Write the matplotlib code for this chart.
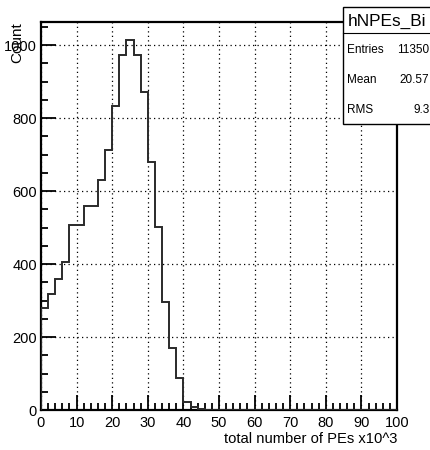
import numpy as np
import matplotlib
matplotlib.use("Agg")
import matplotlib.pyplot as plt
from matplotlib.patches import Rectangle
from matplotlib.lines import Line2D
from matplotlib.ticker import MultipleLocator

# Histogram of the total number of photo-electrons (in thousands), 2k bins
bin_edges = np.arange(0, 102, 2)
counts = [280, 318, 360, 406, 506, 506, 559, 559, 630, 712,
          834, 972, 1013, 972, 871, 680, 503, 295, 170, 87,
          23, 8, 3, 1] + [0] * 26

hist_name = "hNPEs_Bi"
stat_labels = ["Entries", "Mean", "RMS"]
stat_values = ["11350", "20.57", "9.3"]

x_label = "total number of PEs x10^3"
y_label = "Count"

plt.rcParams["font.family"] = ["Liberation Sans", "DejaVu Sans"]

fig = plt.figure(figsize=(4.31, 4.5), dpi=100)
ax = fig.add_axes([41 / 431, 1 - 410 / 450, (397 - 41) / 431, (410 - 22) / 450])

ax.stairs(counts, bin_edges, baseline=0, color="#2a2a2a", linewidth=1.4, zorder=3)

ax.set_xlim(0, 100)
ax.set_ylim(0, max(counts) * 1.05)

ax.xaxis.set_major_locator(MultipleLocator(10))
ax.xaxis.set_minor_locator(MultipleLocator(2))
ax.yaxis.set_major_locator(MultipleLocator(200))
ax.yaxis.set_minor_locator(MultipleLocator(50))

ax.tick_params(which="both", direction="in", top=False, right=False,
               color="black", width=1.3, labelsize=10.5, pad=3)
ax.tick_params(which="major", length=11)
ax.tick_params(which="minor", length=5)
ax.tick_params(axis="x", pad=4)

for side in ax.spines.values():
    side.set_linewidth(1.6)
    side.set_color("black")

ax.grid(True, which="major", color="black", linestyle=(0, (1, 2.6)), linewidth=0.9)
ax.set_axisbelow(False)

ax.set_xlabel(x_label, fontsize=10.6, ha="right", x=1.0, labelpad=2)
ax.set_ylabel(y_label, fontsize=11, ha="right", va="center")
ax.yaxis.set_label_coords(-0.068, 1.0)

# Statistics box
box_left = 343 / 431
box_top = 1 - 7 / 450
box_bottom = 1 - 124 / 450
sep_y = 1 - 33 / 450
fig.patches.append(Rectangle((box_left, box_bottom), 1.2 - box_left, box_top - box_bottom,
                             transform=fig.transFigure, facecolor="white",
                             edgecolor="black", linewidth=1.0, zorder=10))
fig.lines.append(Line2D([box_left, 1.0], [sep_y, sep_y], transform=fig.transFigure,
                        color="black", linewidth=0.8, zorder=11))
fig.text(387.5 / 431, 1 - 21 / 450, hist_name, fontsize=12.4, ha="center", va="center", zorder=12)
for i, (lab, val) in enumerate(zip(stat_labels, stat_values)):
    yy = 1 - (50 + 30 * i) / 450
    fig.text(347 / 431, yy, lab, fontsize=8.5, ha="left", va="center", zorder=12)
    fig.text(429.5 / 431, yy, val, fontsize=8.5, ha="right", va="center", zorder=12)

fig.savefig("out.png", dpi=100)
